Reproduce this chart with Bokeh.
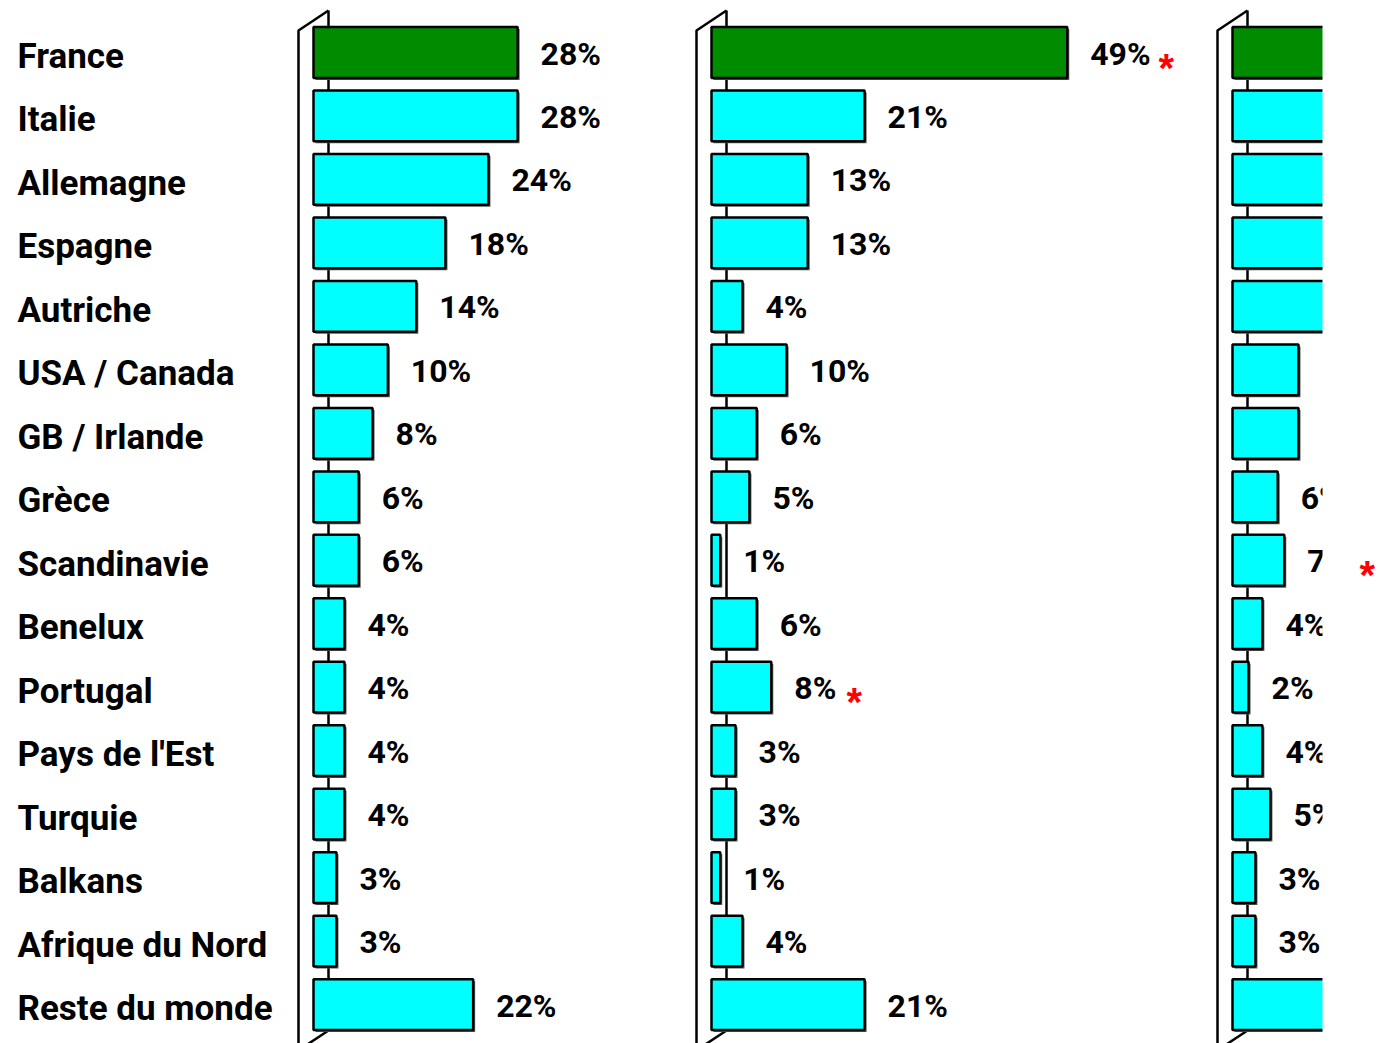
from bokeh.plotting import figure
from bokeh.models import Range1d, ColumnDataSource
from bokeh.core.properties import value
from bokeh.embed import file_html
from bokeh.resources import INLINE

# ---------------- data ----------------
countries = ["France", "Italie", "Allemagne", "Espagne", "Autriche", "USA / Canada",
             "GB / Irlande", "Grèce", "Scandinavie", "Benelux", "Portugal",
             "Pays de l'Est", "Turquie", "Balkans", "Afrique du Nord", "Reste du monde"]

panel1_values = [28.0, 28.0, 24.0, 18.1, 14.1, 10.2, 8.1, 6.2, 6.2, 4.25, 4.25, 4.25, 4.25, 3.15, 3.15, 21.9]
panel1_labels = ["28%", "28%", "24%", "18%", "14%", "10%", "8%", "6%", "6%", "4%", "4%", "4%", "4%", "3%", "3%", "22%"]
panel1_flags = [0, 0, 0, 0, 0, 0, 0, 0, 0, 0, 0, 0, 0, 0, 0, 0]

panel2_values = [48.8, 21.0, 13.2, 13.2, 4.25, 10.3, 6.2, 5.2, 1.2, 6.2, 8.2, 3.3, 3.3, 1.2, 4.25, 21.0]
panel2_labels = ["49%", "21%", "13%", "13%", "4%", "10%", "6%", "5%", "1%", "6%", "8%", "3%", "3%", "1%", "4%", "21%"]
panel2_flags = [1, 0, 0, 0, 0, 0, 0, 0, 0, 0, 1, 0, 0, 0, 0, 0]

panel3_values = [30.0, 22.0, 20.0, 16.0, 14.0, 9.05, 9.05, 6.2, 7.1, 4.1, 2.2, 4.1, 5.2, 3.15, 3.15, 20.0]
panel3_labels = ["30%", "22%", "20%", "16%", "14%", "9%", "9%", "6%", "7%", "4%", "2%", "4%", "5%", "3%", "3%", "20%"]
panel3_flags = [0, 0, 0, 0, 0, 0, 0, 0, 1, 0, 0, 0, 0, 0, 0, 0]

highlight = "France"

# ---------------- layout ----------------
PX = 7.29            # pixels per percent point
ROW = 63.47          # pixels per row
W, H = 1379, 1043
CLIP = 1322          # right edge where the third panel is cut
bar_starts_px = [313, 711, 1232]
x_start = -bar_starts_px[0] / PX
panel_offsets = [(b - bar_starts_px[0]) / PX for b in bar_starts_px]
x_end = x_start + W / PX
x_clip = x_start + CLIP / PX
y_top = -52 / ROW
y_bot = y_top + H / ROW

FONT = "Roboto"
GREEN = "#008C00"
CYAN = "#00FFFF"
LABEL_GAP = 23

p = figure(width=W, height=H, output_backend="svg", toolbar_location=None,
           x_range=Range1d(x_start, x_end), y_range=Range1d(y_bot, y_top),
           x_axis_type=None, y_axis_type=None,
           min_border_left=0, min_border_right=0, min_border_top=0, min_border_bottom=0)
p.grid.visible = False
p.outline_line_color = None
p.background_fill_color = "white"
p.border_fill_color = "white"

n = len(countries)
rows = list(range(n))
depth = 15 / PX                 # half-depth of the 3D wall
top_back, top_front = -0.662, -0.347
bot_back, bot_front = n - 1 + 0.41, n - 1 + 0.72

# country labels
p.text(x=[x_start + 17 / PX] * n, y=rows, text=countries, text_font=value(FONT),
       text_font_style="bold", text_font_size="35px", text_color="black",
       text_align="left", text_baseline="middle", y_offset=4)

panels = [(panel1_values, panel1_labels, panel1_flags),
          (panel2_values, panel2_labels, panel2_flags),
          (panel3_values, panel3_labels, panel3_flags)]

star_x, star_y, star_off = [], [], []
for off, (vals, labs, flags) in zip(panel_offsets, panels):
    # back wall line (behind bars)
    p.line(x=[off + depth, off + depth], y=[top_back, bot_back], line_color="black", line_width=2.5)
    # front wall line, top and bottom edges
    p.line(x=[off + depth, off - depth, off - depth, off + depth],
           y=[top_back, top_front, bot_front, bot_back], line_color="black", line_width=2.5)
    src = ColumnDataSource(dict(
        y=rows,
        left=[off] * n,
        right=[off + v for v in vals],
        sy=[r + 2.0 / ROW for r in rows],
        sleft=[off + 2.0 / PX] * n,
        sright=[off + v + 2.0 / PX for v in vals],
        color=[GREEN if c == highlight else CYAN for c in countries],
    ))
    # shadow
    p.hbar(y="sy", left="sleft", right="sright", height=0.8, source=src,
           fill_color="#555555", line_color=None)
    p.hbar(y="y", left="left", right="right", height=0.8, source=src,
           fill_color="color", line_color="black", line_width=2.5)
    # value labels (only those that start inside the visible area)
    vis = [i for i in rows if off + vals[i] + LABEL_GAP / PX < x_clip - 2 / PX]
    lsrc = ColumnDataSource(dict(x=[off + vals[i] for i in vis], y=vis,
                                 lab=[labs[i] for i in vis]))
    p.text(x="x", y="y", text="lab", source=lsrc, x_offset=LABEL_GAP,
           text_font=value(FONT), text_font_style="bold", text_font_size="32px",
           text_color="black", text_align="left", text_baseline="middle", y_offset=1)
    for r, v, lab, f in zip(rows, vals, labs, flags):
        if f:
            star_x.append(off + v)
            star_y.append(r)
            star_off.append(LABEL_GAP + 16 * (len(lab) - 1) + 26 + 18)

# the third panel is cut at the right edge of the slide
p.quad(left=[x_clip], right=[x_end], bottom=[y_bot], top=[y_top],
       fill_color="white", line_color=None)

# significance stars
ssrc = ColumnDataSource(dict(x=star_x, y=star_y, xo=star_off, t=["*"] * len(star_x)))
p.text(x="x", y="y", text="t", source=ssrc, x_offset="xo", y_offset=15,
       text_font=value("Liberation Sans"), text_font_style="bold", text_font_size="40px",
       text_color="red", text_align="center", text_baseline="middle")

open("out.html", "w").write(file_html(p, INLINE))
